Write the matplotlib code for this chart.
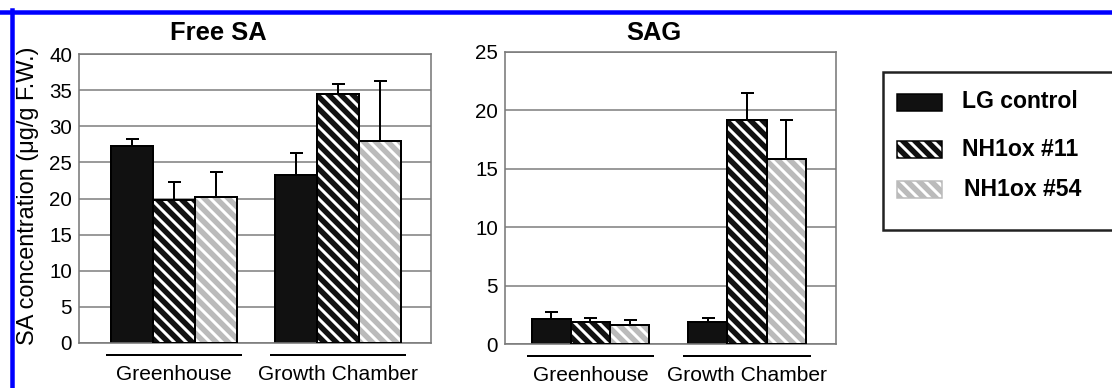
import matplotlib
matplotlib.use('Agg')
import matplotlib.pyplot as plt
import matplotlib.transforms as mtransforms
from matplotlib.patches import Rectangle
from matplotlib.lines import Line2D
import numpy as np

plt.rcParams['font.family'] = ['Liberation Sans', 'DejaVu Sans']
plt.rcParams['hatch.linewidth'] = 3.0

groups = ['Greenhouse', 'Growth Chamber']
lines = ['LG control', 'NH1ox #11', 'NH1ox #54']

# free SA, ug/g F.W.
free_sa_lg = [27.3, 23.2]
free_sa_lg_err = [1.0, 3.1]
free_sa_nh11 = [19.8, 34.4]
free_sa_nh11_err = [2.5, 1.5]
free_sa_nh54 = [20.2, 28.0]
free_sa_nh54_err = [3.5, 8.3]

# SAG
sag_lg = [2.1, 1.9]
sag_lg_err = [0.65, 0.3]
sag_nh11 = [1.9, 19.2]
sag_nh11_err = [0.3, 2.3]
sag_nh54 = [1.6, 15.8]
sag_nh54_err = [0.45, 3.4]

W, H = 1112, 388
fig = plt.figure(figsize=(W / 72, H / 72), dpi=72)
fig.patch.set_facecolor('white')

styles = [
    dict(fill='#111111', hatch=None),
    dict(fill='#111111', hatch='\\\\'),
    dict(fill='#bbbbbb', hatch='\\\\'),
]


def px_axes(x0, x1, ytop, ybot):
    return fig.add_axes([x0 / W, 1 - ybot / H, (x1 - x0) / W, (ybot - ytop) / H])


def draw_panel(ax, series, errors, centers, ymax, step, xlim):
    centers = np.array(centers)
    for i, (vals, errs, st) in enumerate(zip(series, errors, styles)):
        x = centers + (i - 1)
        if st['hatch']:
            ax.bar(x, vals, width=1, color=st['fill'], edgecolor='white',
                   hatch=st['hatch'], linewidth=0, zorder=2)
            ax.bar(x, vals, width=1, fill=False, edgecolor='black',
                   linewidth=2, zorder=3)
        else:
            ax.bar(x, vals, width=1, color=st['fill'], edgecolor='black',
                   linewidth=2, zorder=2)
        ax.errorbar(x, vals, yerr=[np.zeros(len(vals)), errs], fmt='none',
                    ecolor='black', elinewidth=2, capsize=6.5, capthick=2,
                    zorder=4)
    ax.set_xlim(*xlim)
    ax.set_ylim(0, ymax)
    ax.set_yticks(np.arange(0, ymax + 1, step))
    ax.set_xticks([])
    ax.yaxis.grid(True, color='#7a7a7a', linewidth=1.5)
    ax.set_axisbelow(True)
    for sp in ax.spines.values():
        sp.set_color('#7a7a7a')
        sp.set_linewidth(1.6)
    ax.tick_params(axis='y', length=0, labelsize=20.5, pad=7)
    trans = mtransforms.blended_transform_factory(ax.transData, ax.transAxes)
    for c, g in zip(centers, groups):
        ax.plot([c - 1.6, c + 1.6], [-0.042, -0.042], color='black', lw=2,
                transform=trans, clip_on=False)
        ax.text(c, -0.108, g, transform=trans, ha='center', va='center',
                fontsize=21)


ax1 = px_axes(79, 431, 54, 343)
draw_panel(ax1, [free_sa_lg, free_sa_nh11, free_sa_nh54],
           [free_sa_lg_err, free_sa_nh11_err, free_sa_nh54_err],
           [0, 3.9], 40, 5, (-2.26, 6.11))

ax2 = px_axes(505, 836, 51.7, 344)
draw_panel(ax2, [sag_lg, sag_nh11, sag_nh54],
           [sag_lg_err, sag_nh11_err, sag_nh54_err],
           [0, 4.0], 25, 5, (-2.18, 6.27))

fig.text(218 / W, 1 - 33 / H, 'Free SA', ha='center', va='center',
         fontsize=25.5, fontweight='bold')
fig.text(654 / W, 1 - 33 / H, 'SAG', ha='center', va='center',
         fontsize=25.5, fontweight='bold')
fig.text(28 / W, 1 - 196 / H, 'SA concentration (\u03bcg/g F.W.)',
         rotation=90, ha='center', va='center', fontsize=23.5)

# legend box
fig.patches.append(Rectangle((883 / W, 1 - 230 / H), 240 / W, 158 / H,
                             transform=fig.transFigure, facecolor='white',
                             edgecolor='#222222', linewidth=2.5))
legend_y = [102, 149, 189]
legend_tx = [962, 962, 964]
for st, name, yc, tx in zip(styles, lines, legend_y, legend_tx):
    r = (897 / W, 1 - (yc + 8.5) / H)
    if st['hatch']:
        fig.patches.append(Rectangle(r, 45 / W, 17 / H, transform=fig.transFigure,
                                     facecolor=st['fill'], edgecolor='white',
                                     hatch=st['hatch'], linewidth=0))
        edge = 'black' if st['fill'] == '#111111' else '#bbbbbb'
        fig.patches.append(Rectangle(r, 45 / W, 17 / H, transform=fig.transFigure,
                                     fill=False, edgecolor=edge, linewidth=1.5))
    else:
        fig.patches.append(Rectangle(r, 45 / W, 17 / H, transform=fig.transFigure,
                                     facecolor=st['fill'], edgecolor='black',
                                     linewidth=1.5))
    fig.text(tx / W, 1 - yc / H, name, ha='left', va='center',
             fontsize=23, fontweight='bold')

# blue frame on top and left
fig.lines.append(Line2D([0, 1], [1 - 12 / H, 1 - 12 / H], color='#0000ff',
                        linewidth=4.5, transform=fig.transFigure))
fig.lines.append(Line2D([12 / W, 12 / W], [0, 1 - 10 / H], color='#0000ff',
                        linewidth=4.5, transform=fig.transFigure))

fig.savefig('out.png', dpi=72)
